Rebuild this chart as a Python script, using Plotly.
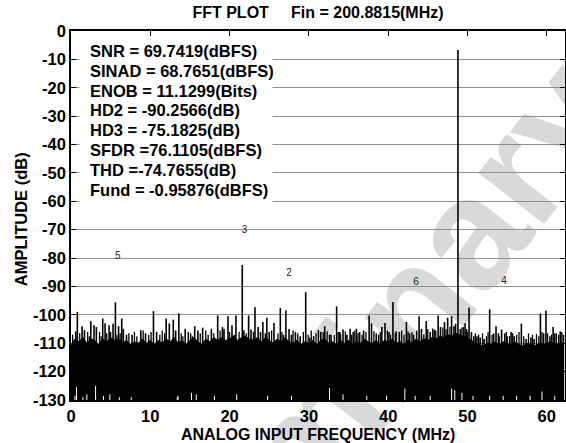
import plotly.graph_objects as go

# ---------------- data ----------------
# Noise-floor envelope (top of the dense FFT floor), every 0.5 MHz
floor_freq = [i * 0.5 for i in range(125)]
floor_db = [
    -110.5, -108.5, -109.5, -108.0, -110.0, -108.5, -109.0, -110.5, -108.5, -109.5,
    -108.0, -109.0, -108.5, -110.0, -109.0, -110.5, -109.5, -110.0, -108.5, -110.0,
    -109.0, -110.5, -109.0, -110.0, -108.5, -109.5, -108.0, -110.0, -109.0, -110.5,
    -109.0, -108.0, -109.5, -110.5, -108.5, -109.5, -108.0, -109.0, -108.0, -109.0,
    -108.5, -107.5, -109.0, -108.0, -107.5, -108.5, -109.0, -108.0, -109.5, -108.0,
    -109.0, -110.0, -108.5, -109.5, -108.0, -109.5, -110.0, -109.0, -110.5, -109.5,
    -110.0, -109.0, -110.5, -109.0, -108.5, -110.0, -109.5, -110.5, -109.0, -110.0,
    -109.0, -110.5, -109.5, -110.0, -108.5, -109.5, -110.0, -109.0, -110.5, -109.0,
    -109.5, -108.5, -110.0, -109.5, -110.5, -109.0, -110.0, -108.5, -109.5, -108.5,
    -109.0, -108.0, -108.5, -107.5, -108.0, -107.0, -107.5, -106.5, -107.0, -107.5,
    -108.0, -109.0, -110.0, -110.5, -111.0, -110.0, -110.5, -109.5, -110.5, -109.5,
    -110.0, -110.5, -109.5, -110.5, -111.0, -110.0, -110.5, -111.0, -110.0, -110.5,
    -110.0, -109.5, -110.5, -110.0, -110.5,
]

# FFT bins standing clearly above the floor (MHz, dBFS)
spur_freq = [
    0.6, 0.8, 1.4, 1.7, 2.5, 2.9, 3.2, 4.0, 4.3, 4.8, 5.3, 5.6, 6.0, 6.4, 6.6,
    7.0, 7.7, 8.8, 9.4, 10.4, 10.8, 12.0, 12.4, 12.9, 13.2, 13.6, 14.4, 14.8,
    15.6, 16.0, 16.6, 17.7, 18.5, 19.1, 19.3, 19.8, 20.3, 20.8, 21.6, 21.8,
    22.4, 22.7, 23.2, 23.6, 23.9, 24.2, 24.7, 25.0, 25.6, 26.4, 26.8, 27.1,
    27.5, 27.8, 28.3, 28.9, 29.6, 30.1, 30.6, 31.2, 31.5, 32.0, 32.6, 32.8,
    33.5, 33.9, 34.3, 34.8, 35.2, 35.6, 36.0, 36.4, 36.9, 37.6, 37.9, 38.5,
    39.2, 39.6, 40.1, 40.6, 41.0, 41.4, 42.3, 42.7, 43.2, 43.9, 44.2, 44.8,
    45.3, 45.8, 46.3, 46.6, 47.1, 47.5, 48.0, 48.3, 48.5, 48.8, 49.1, 49.5,
    49.7, 50.2, 50.5, 50.8, 51.2, 51.6, 52.1, 52.8, 53.3, 53.6, 53.9, 54.3,
    54.7, 55.0, 55.5, 55.9, 56.8, 57.4, 58.0, 58.4, 59.2, 59.6, 59.9, 60.4,
    60.8, 61.2, 61.7, 62.1,
]
spur_db = [
    -105.8, -99.0, -104.0, -105.4, -102.3, -103.7, -104.3, -101.3, -103.0, -103.7,
    -103.1, -95.6, -104.0, -101.3, -104.9, -107.0, -107.0, -105.4, -106.5, -98.7,
    -106.0, -101.3, -103.0, -101.7, -105.5, -99.4, -104.9, -106.0, -104.0, -105.5,
    -104.5, -104.9, -100.2, -104.3, -105.0, -100.5, -103.7, -100.2, -82.4, -105.4,
    -100.2, -105.2, -97.3, -104.3, -106.0, -102.5, -101.0, -106.0, -102.9, -97.6,
    -107.0, -98.5, -105.0, -107.0, -106.0, -107.5, -92.0, -108.0, -107.5, -105.4,
    -106.0, -104.0, -107.0, -107.0, -97.0, -106.0, -105.2, -107.0, -104.9, -106.0,
    -104.9, -106.0, -105.5, -100.2, -103.0, -106.5, -104.3, -102.9, -106.0, -95.5,
    -105.8, -106.0, -102.5, -106.5, -107.0, -100.5, -105.0, -102.2, -106.0, -105.2,
    -100.2, -104.3, -102.5, -101.0, -100.5, -104.0, -103.1, -6.7, -105.0, -104.3,
    -103.0, -97.4, -106.0, -107.5, -107.5, -108.0, -108.5, -98.1, -106.5, -104.0,
    -106.5, -105.2, -106.5, -107.5, -106.0, -107.5, -103.1, -108.5, -108.0, -108.5,
    -99.5, -106.5, -98.6, -107.5, -104.3, -106.5, -105.8, -107.0,
]

# Smaller bins poking just above the floor (MHz, dBFS)
minor_freq = [
    0.2, 1.1, 2.1, 2.3, 3.6, 3.8, 4.5, 5.0, 5.8, 6.2, 7.3, 8.0, 8.3, 9.1, 9.8,
    10.1, 11.2, 11.5, 11.8, 13.9, 14.1, 15.1, 15.3, 16.3, 17.0, 17.3, 18.0, 18.8,
    20.0, 20.6, 21.2, 22.1, 23.0, 24.5, 25.3, 26.1, 26.6, 28.0, 28.6, 29.3, 29.9,
    30.3, 30.9, 31.8, 32.3, 33.2, 33.7, 34.0, 34.6, 35.4, 35.8, 36.2, 36.7, 37.2,
    38.2, 38.8, 39.0, 39.9, 40.3, 40.9, 41.7, 42.0, 42.5, 43.0, 43.6, 44.5, 45.0,
    45.6, 46.0, 46.9, 47.3, 47.8, 49.3, 49.9, 50.0, 51.0, 51.4, 51.9, 52.4, 52.6,
    53.1, 54.0, 54.9, 55.3, 55.7, 56.2, 56.5, 57.1, 57.7, 58.2, 58.7, 59.0, 59.4,
    60.1, 60.6, 61.0, 61.5, 61.9,
]
minor_db = [
    -107.0, -106.5, -106.0, -107.5, -106.0, -107.5, -106.5, -106.0, -107.0, -106.5,
    -106.5, -106.0, -107.5, -105.5, -107.0, -106.0, -107.0, -105.5, -106.5, -106.5,
    -107.5, -106.5, -107.5, -106.5, -105.5, -107.0, -106.5, -105.5, -106.0, -107.0,
    -106.0, -106.5, -106.0, -106.5, -105.5, -106.5, -106.0, -105.5, -106.5, -106.0,
    -107.0, -105.5, -106.5, -106.0, -105.8, -107.0, -106.0, -106.8, -105.8, -107.0,
    -105.5, -106.5, -107.0, -106.0, -105.8, -107.0, -106.0, -105.5, -107.0, -106.5,
    -105.5, -107.0, -105.8, -106.0, -105.5, -106.8, -105.0, -104.8, -105.5, -104.5,
    -105.0, -104.2, -104.5, -105.0, -106.0, -106.5, -107.0, -106.5, -107.5, -106.0,
    -107.0, -107.5, -106.0, -107.5, -106.5, -107.0, -106.0, -107.5, -106.5, -107.0,
    -106.8, -107.5, -106.0, -106.5, -107.0, -106.5, -107.0, -106.0,
]

# Bins that dip toward -130 dB (gaps at the bottom of the floor)
dip_freq = [0.5, 0.7, 1.5, 2.0, 3.1, 4.1, 4.9, 6.1, 7.6, 13.4, 13.5, 15.2, 15.8,
            18.1, 20.9, 24.8, 27.8, 32.6, 34.3, 37.3, 39.8, 42.1, 43.4, 45.3,
            48.0, 48.4, 49.3, 50.7, 52.8, 54.5, 56.2, 57.9, 59.4, 61.0]
dip_db = [-128.5, -125.5, -129.0, -128.0, -125.0, -128.5, -128.0, -129.0, -129.0,
          -129.0, -128.5, -127.5, -128.0, -128.5, -128.0, -128.5, -128.5, -125.8,
          -128.0, -128.5, -128.5, -126.0, -128.5, -128.5, -126.0, -126.5, -127.5,
          -128.5, -128.5, -128.5, -128.5, -128.5, -127.0, -128.5]

# Harmonic markers
harm_labels = ["5", "3", "2", "6", "4"]
harm_freq = [5.9, 21.9, 27.5, 43.5, 54.6]
harm_db = [-79.6, -70.4, -85.6, -88.7, -88.4]

# Measurement summary
stats_lines = [
    "SNR = 69.7419(dBFS)",
    "SINAD = 68.7651(dBFS)",
    "ENOB = 11.1299(Bits)",
    "HD2 = -90.2566(dB)",
    "HD3 = -75.1825(dB)",
    "SFDR =76.1105(dBFS)",
    "THD =-74.7655(dB)",
    "Fund = -0.95876(dBFS)",
]

x_ticks = [0, 10, 20, 30, 40, 50, 60]
y_ticks = list(range(-130, 1, 10))

# ---------------- figure ----------------
W, H = 566, 443
ML, MR, MT, MB = 71, 1, 31, 43
XMAX = 62.3
YMIN, YMAX = -130, 0
FONT = "Liberation Sans, Arial, sans-serif"
pw, ph = W - ML - MR, H - MT - MB

fig = go.Figure()

# dense noise floor as a filled region down to the axis bottom
fx = floor_freq + [floor_freq[-1], floor_freq[0]]
fy = floor_db + [YMIN, YMIN]
fig.add_trace(go.Scatter(x=fx, y=fy, mode="lines", fill="toself",
                         fillcolor="black", line=dict(color="black", width=1),
                         hoverinfo="skip", showlegend=False))


def stems(freqs, levels):
    xs, ys = [], []
    for f, v in zip(freqs, levels):
        xs += [f, f, None]
        ys += [YMIN, v, None]
    return xs, ys


mx, my = stems(minor_freq, minor_db)
fig.add_trace(go.Scatter(x=mx, y=my, mode="lines",
                         line=dict(color="black", width=1.3),
                         hoverinfo="skip", showlegend=False))

sx, sy = stems(spur_freq, spur_db)
fig.add_trace(go.Scatter(x=sx, y=sy, mode="lines",
                         line=dict(color="black", width=1.6),
                         showlegend=False))

dx, dy = stems(dip_freq, dip_db)
fig.add_trace(go.Scatter(x=dx, y=dy, mode="lines",
                         line=dict(color="white", width=1),
                         hoverinfo="skip", showlegend=False))

# harmonic numbers
fig.add_trace(go.Scatter(x=harm_freq, y=harm_db, mode="text", text=harm_labels,
                         textfont=dict(family=FONT, size=10, color="#222"),
                         showlegend=False))

# white panel behind the summary text
fig.add_shape(type="rect", xref="x", yref="y", x0=1.07, x1=25.4, y0=-63.5, y1=-0.8,
              fillcolor="white", line=dict(width=0), layer="between")

for i, line in enumerate(stats_lines):
    fig.add_annotation(x=2.2, y=-7.05 - 6.98 * i, xref="x", yref="y",
                       text=line, showarrow=False, xanchor="left", yanchor="middle",
                       font=dict(family=FONT, size=16.5, color="black", weight="bold"))

axis_font = dict(family=FONT, size=16.5, color="black", weight="bold")

# axis titles
fig.add_annotation(x=0.5, y=-34 / ph, xref="paper", yref="paper",
                   text="ANALOG INPUT FREQUENCY (MHz)", showarrow=False,
                   xanchor="center", yanchor="middle",
                   font=dict(family=FONT, size=16, color="black", weight="bold"))
fig.add_annotation(x=(21 - ML) / pw, y=0.49, xref="paper", yref="paper",
                   text="AMPLITUDE (dB)", showarrow=False, textangle=-90,
                   xanchor="center", yanchor="middle", font=axis_font)

# "Preliminary" watermark: label of an invisible shape kept beneath grid and traces
wm_x, wm_y = 309, 411  # centre of the rotated word, in page pixels
fig.add_shape(type="rect", xref="paper", yref="paper",
              x0=(wm_x - ML - 1) / pw, x1=(wm_x - ML + 1) / pw,
              y0=(H - MB - wm_y - 1) / ph, y1=(H - MB - wm_y + 1) / ph,
              line=dict(width=0), fillcolor="rgba(0,0,0,0)", layer="below",
              label=dict(text="Preliminary", textangle=-52, textposition="middle center",
                         font=dict(family=FONT, size=158, color="#d9d9d9", weight="bold")))

fig.update_xaxes(range=[0, XMAX], tickvals=x_ticks, ticktext=[str(v) for v in x_ticks],
                 showgrid=False, zeroline=False,
                 ticks="inside", ticklen=5, tickcolor="black", mirror="ticks",
                 showline=True, linecolor="black", linewidth=1.5,
                 tickfont=axis_font)
fig.update_yaxes(range=[YMIN, YMAX], tickvals=y_ticks, ticktext=[str(v) for v in y_ticks],
                 showgrid=True, gridcolor="#8f8f8f", gridwidth=1, zeroline=False,
                 ticks="inside", ticklen=5, tickcolor="black", mirror="ticks",
                 showline=True, linecolor="black", linewidth=1.5,
                 tickfont=axis_font)

fig.update_layout(
    width=W, height=H,
    margin=dict(l=ML, r=MR, t=MT, b=MB, autoexpand=False),
    paper_bgcolor="white", plot_bgcolor="white",
    title=dict(text="FFT PLOT\u00a0\u00a0\u00a0\u00a0 Fin = 200.8815(MHz)",
               x=0.5, xref="paper", y=1 - 12.5 / H, yref="container", yanchor="middle",
               font=dict(family=FONT, size=16, color="black", weight="bold")),
    showlegend=False,
)

fig.write_html("out.html")
